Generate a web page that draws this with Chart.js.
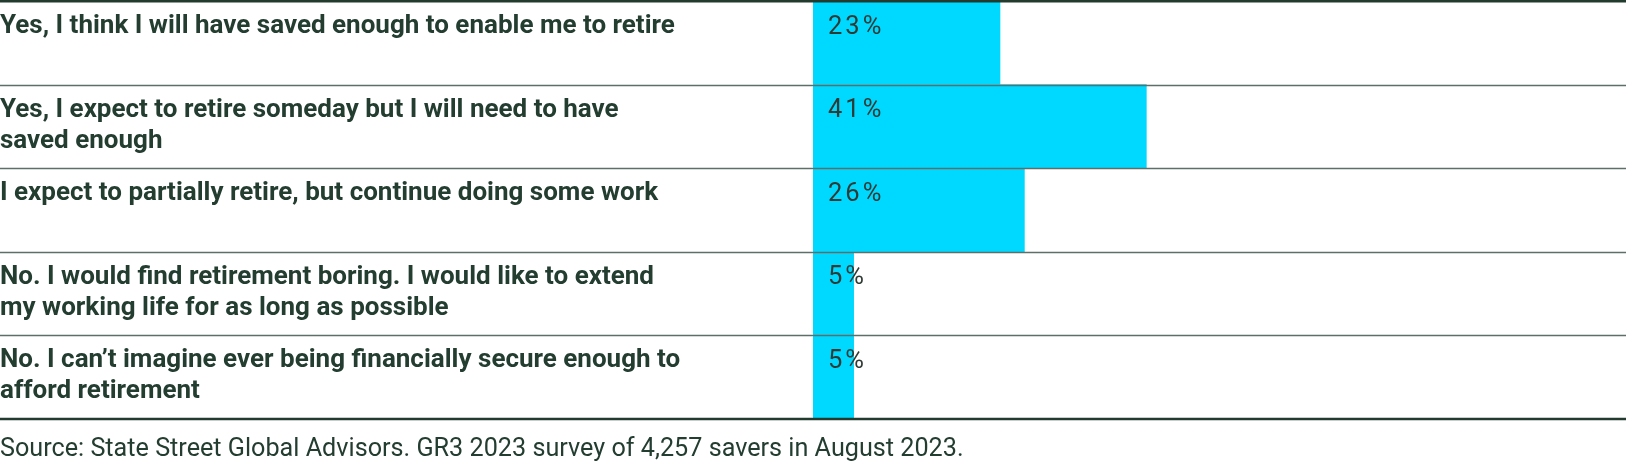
<!DOCTYPE html>
<html>
<head>
<meta charset="utf-8">
<script src="https://cdn.jsdelivr.net/npm/chart.js@4.4.1/dist/chart.umd.min.js"></script>
<style>
  html, body { margin: 0; padding: 0; background: #ffffff; }
  #wrap { width: 1626px; height: 470px; position: relative; }
</style>
</head>
<body>
<div id="wrap"><canvas id="c" width="1626" height="470"></canvas></div>
<script>
// ---- Data ----
const categories = [
  ["Yes, I think I will have saved enough to enable me to retire"],
  ["Yes, I expect to retire someday but I will need to have", "saved enough"],
  ["I expect to partially retire, but continue doing some work"],
  ["No. I would find retirement boring. I would like to extend", "my working life for as long as possible"],
  ["No. I can\u2019t imagine ever being financially secure enough to", "afford retirement"]
];
const values = [23, 41, 26, 5, 5];
const valueLabels = ["23%", "41%", "26%", "5%", "5%"];
const sourceNote = "Source: State Street Global Advisors. GR3 2023 survey of 4,257 savers in August 2023.";

// ---- Styles ----
const BAR_COLOR = "#00D9FF";
const TEXT_COLOR = "#243D31";
const VALUE_COLOR = "#2E3B35";
const RULE_COLOR = "#5E6E68";
const HEAVY_RULE = "#233A2E";

const overlay = {
  id: "overlay",
  afterDatasetsDraw(chart) {
    const ctx = chart.ctx;
    const ys = chart.scales.y;
    const xs = chart.scales.x;
    const W = chart.width;
    const n = categories.length;
    const step = ys.getPixelForValue(1) - ys.getPixelForValue(0);
    const tops = [];
    for (let i = 0; i < n; i++) tops.push(ys.getPixelForValue(i) - step / 2);
    const bottom = ys.getPixelForValue(n - 1) + step / 2;

    ctx.save();
    // separators
    ctx.strokeStyle = RULE_COLOR;
    ctx.lineWidth = 1.3;
    for (let i = 1; i < n; i++) {
      const y = Math.round(tops[i]) + 0.5;
      ctx.beginPath(); ctx.moveTo(0, y); ctx.lineTo(W, y); ctx.stroke();
    }
    // heavy top & bottom rules
    ctx.strokeStyle = HEAVY_RULE;
    ctx.lineWidth = 2.5;
    ctx.beginPath(); ctx.moveTo(0, 1.2); ctx.lineTo(W, 1.2); ctx.stroke();
    ctx.beginPath(); ctx.moveTo(0, bottom); ctx.lineTo(W, bottom); ctx.stroke();

    // category labels (bold)
    ctx.fillStyle = TEXT_COLOR;
    ctx.textAlign = "left";
    ctx.textBaseline = "alphabetic";
    ctx.font = "700 23px Roboto";
    const w0 = ctx.measureText(categories[0][0]).width;
    const fs = 23 * 675 / w0;
    ctx.font = "700 " + fs.toFixed(2) + "px Roboto";
    for (let i = 0; i < n; i++) {
      categories[i].forEach((line, k) => {
        ctx.fillText(line, 0, tops[i] + 32 + k * 31);
      });
    }

    // value labels
    ctx.fillStyle = VALUE_COLOR;
    ctx.font = "400 25.5px Roboto";
    if ("letterSpacing" in ctx) ctx.letterSpacing = "3px";
    const x0 = xs.getPixelForValue(0);
    for (let i = 0; i < n; i++) {
      ctx.fillText(valueLabels[i], x0 + 15, tops[i] + 32.5);
    }
    if ("letterSpacing" in ctx) ctx.letterSpacing = "0px";

    // source note
    ctx.fillStyle = TEXT_COLOR;
    ctx.font = "400 22px Roboto";
    const ws = ctx.measureText(sourceNote).width;
    const fs2 = 22 * 964 / ws;
    ctx.font = "400 " + fs2.toFixed(2) + "px Roboto";
    ctx.fillText(sourceNote, 0, 456);
    ctx.restore();
  }
};

new Chart(document.getElementById("c"), {
  type: "bar",
  data: {
    labels: categories,
    datasets: [{
      data: values,
      backgroundColor: BAR_COLOR,
      borderWidth: 0,
      barPercentage: 1,
      categoryPercentage: 1
    }]
  },
  options: {
    indexAxis: "y",
    responsive: false,
    maintainAspectRatio: false,
    devicePixelRatio: 1,
    animation: false,
    layout: { padding: { left: 813, right: 0, top: 1, bottom: 51 } },
    plugins: { legend: { display: false }, tooltip: { enabled: false } },
    scales: {
      x: { display: false, min: 0, max: 100 },
      y: { display: false }
    }
  },
  plugins: [overlay]
});
</script>
</body>
</html>
